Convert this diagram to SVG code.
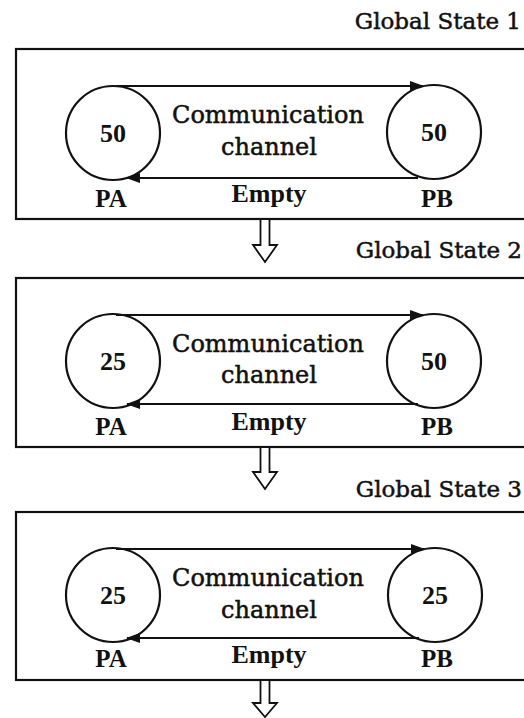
<svg xmlns="http://www.w3.org/2000/svg" width="524" height="718" viewBox="0 0 524 718">
  <style>
    text { font-family: "DejaVu Serif", "Liberation Serif", serif; fill: #111; }
    .title { font-size: 23px; text-anchor: end; stroke: #111; stroke-width: 0.5; }
    .lbl { font-size: 24px; text-anchor: middle; stroke: #111; stroke-width: 0.5; }
    .name, .empty, .num { font-family: "Liberation Serif", "DejaVu Serif", serif; font-weight: bold; text-anchor: middle; }
    .name { font-size: 25px; }
    .empty { font-size: 26px; }
    .num { font-size: 26px; }
    .frame { fill: none; stroke: #111; stroke-width: 2.2; }
    .proc { fill: none; stroke: #111; stroke-width: 2.2; }
    .chan { fill: none; stroke: #111; stroke-width: 2.2; }
    .step { fill: #fff; stroke: #111; stroke-width: 1.8; stroke-linejoin: miter; }
  </style>
  <defs>
    <marker id="head" viewBox="0 0 14 10" refX="13" refY="5" markerWidth="14" markerHeight="10" markerUnits="userSpaceOnUse" orient="auto">
      <path d="M0,0 L14,5 L0,10 Z" fill="#111"/>
    </marker>
  </defs>

  <!-- Global State 1 -->
  <g id="state1">
    <text class="title" x="521" y="29">Global State 1</text>
    <rect class="frame" x="16" y="49" width="540" height="170"/>
    <g id="s1-pa">
      <circle class="proc" cx="113" cy="133" r="47"/>
      <text class="num" x="113" y="142">50</text>
      <text class="name" x="111" y="207">PA</text>
    </g>
    <g id="s1-pb">
      <circle class="proc" cx="434" cy="132" r="47"/>
      <text class="num" x="434" y="141">50</text>
      <text class="name" x="437" y="207">PB</text>
    </g>
    <text class="lbl" x="268" y="123">Communication</text>
    <text class="lbl" x="269" y="155">channel</text>
    <text class="empty" x="269" y="202">Empty</text>
  </g>

  <!-- Global State 2 -->
  <g id="state2">
    <text class="title" x="522" y="258">Global State 2</text>
    <rect class="frame" x="16" y="278" width="540" height="169"/>
    <g id="s2-pa">
      <circle class="proc" cx="113" cy="361" r="47"/>
      <text class="num" x="113" y="370">25</text>
      <text class="name" x="111" y="435">PA</text>
    </g>
    <g id="s2-pb">
      <circle class="proc" cx="434" cy="361" r="47"/>
      <text class="num" x="434" y="370">50</text>
      <text class="name" x="437" y="435">PB</text>
    </g>
    <text class="lbl" x="268" y="352">Communication</text>
    <text class="lbl" x="269" y="383">channel</text>
    <text class="empty" x="269" y="430">Empty</text>
  </g>

  <!-- Global State 3 -->
  <g id="state3">
    <text class="title" x="522" y="497">Global State 3</text>
    <rect class="frame" x="16" y="512" width="540" height="168"/>
    <g id="s3-pa">
      <circle class="proc" cx="113" cy="595" r="47"/>
      <text class="num" x="113" y="604">25</text>
      <text class="name" x="111" y="667">PA</text>
    </g>
    <g id="s3-pb">
      <circle class="proc" cx="435" cy="595" r="47"/>
      <text class="num" x="435" y="604">25</text>
      <text class="name" x="437" y="667">PB</text>
    </g>
    <text class="lbl" x="268" y="586">Communication</text>
    <text class="lbl" x="269" y="618">channel</text>
    <text class="empty" x="269" y="663">Empty</text>
  </g>

  <!-- channel arrows and transitions between states -->
  <g id="connectors">
    <path class="chan" d="M116,86 H423" marker-end="url(#head)"/>
    <path class="chan" d="M418,178 H127" marker-end="url(#head)"/>
    <path class="chan" d="M116,315 H423" marker-end="url(#head)"/>
    <path class="chan" d="M418,404 H127" marker-end="url(#head)"/>
    <path class="chan" d="M116,549 H424" marker-end="url(#head)"/>
    <path class="chan" d="M419,638 H127" marker-end="url(#head)"/>

    <path class="step" d="M260.5,220 V245 H253 L265,262 L277,245 H269.5 V220"/>
    <path class="step" d="M260.5,448 V472 H253 L265,489 L277,472 H269.5 V448"/>
    <path class="step" d="M260.5,681 V703 H253 L265,717 L277,703 H269.5 V681"/>
  </g>
</svg>
